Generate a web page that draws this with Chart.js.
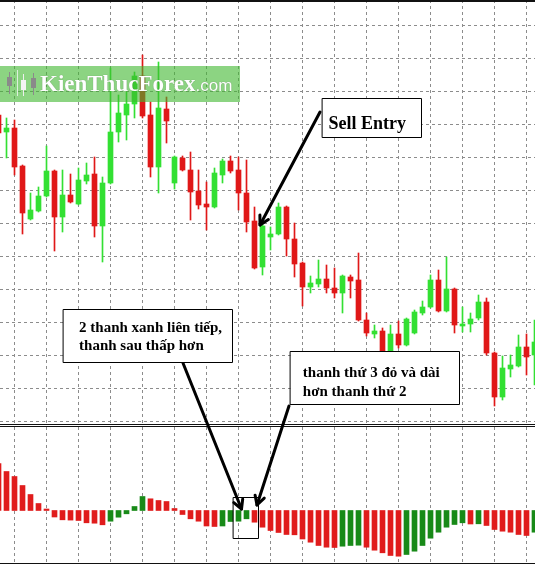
<!DOCTYPE html>
<html>
<head>
<meta charset="utf-8">
<title>Sell Entry</title>
<script src="https://cdn.jsdelivr.net/npm/chart.js@4.4.0/dist/chart.umd.min.js"></script>
<style>
  html,body{margin:0;padding:0;background:#fff;}
  #wrap{position:relative;width:535px;height:565px;overflow:hidden;background:#fff;}
  #wrap canvas{position:absolute;left:0;}
  .rule{position:absolute;left:0;width:535px;height:1px;background:#111;}
  #logo{position:absolute;left:0;top:66px;width:240px;height:36px;background:rgba(63,183,47,0.6);white-space:nowrap;color:#fff;}
  #logo .name{position:absolute;left:40px;top:0;font:bold 23px/36px "Liberation Serif","DejaVu Serif",serif;text-shadow:0 0 1px rgba(0,0,0,.35);}
  #logo .dom{font:17px/36px "Liberation Sans",Arial,sans-serif;}
  .ic{position:absolute;background:#8a8a8a;}
</style>
</head>
<body>
<div id="wrap">
  <canvas id="priceCanvas" width="535" height="424" style="top:0"></canvas>
  <canvas id="oscCanvas" width="535" height="136" style="top:427px"></canvas>
  <div id="logo">
    <div class="ic" style="left:9px;top:6px;width:1px;height:22px"></div>
    <div class="ic" style="left:7px;top:11px;width:5px;height:9px"></div>
    <div class="ic" style="left:17px;top:4px;width:1px;height:26px;background:#dcefdc"></div>
    <div class="ic" style="left:23px;top:8px;width:1px;height:22px;background:#eee"></div>
    <div class="ic" style="left:21px;top:14px;width:5px;height:10px;background:#f4f4f4"></div>
    <div class="ic" style="left:33px;top:7px;width:1px;height:22px"></div>
    <div class="ic" style="left:31px;top:12px;width:5px;height:10px"></div>
    <span class="name">KienThucForex<span class="dom">.com</span></span>
  </div>
  <div class="rule" style="top:0;height:2px"></div>
  <div class="rule" style="top:424px"></div>
  <div class="rule" style="top:426px"></div>
  <div class="rule" style="top:563px"></div>
  <canvas id="noteCanvas" width="535" height="565" style="top:0"></canvas>
</div>

<script>
// nen gia (OHLC), don vi = diem tren khung gia
const candleOpen  = [309,292,296,258,205,213,228,253,207,229,220,243,250,198,241,292,309,320,348,309,257,315,241,266,254,233,220,217,249,263,254,231,203,157,187,190,217,185,161,137,140,145,136,131,147,144,104,90,93,72,90,79,91,111,117,144,113,135,98,100,106,122,71,27,55,58,77,69];
const candleHigh  = [311,306,304,259,231,237,278,254,254,250,256,261,267,247,356,329,332,352,369,322,362,327,268,268,272,254,242,256,265,268,267,264,217,202,197,221,218,201,162,148,164,159,156,149,149,171,111,99,96,99,103,106,114,123,149,154,167,136,117,111,129,126,72,68,69,89,90,104];
const candleLow   = [288,266,249,190,204,212,227,173,192,221,219,240,187,162,240,282,284,306,306,247,231,281,235,253,204,215,194,216,241,251,214,192,155,149,174,189,168,147,118,131,137,131,126,111,126,103,88,86,64,67,76,78,90,109,116,112,112,91,92,92,104,69,18,24,47,57,49,39];
const candleClose = [291,296,257,211,214,228,253,207,229,222,244,249,198,241,292,311,320,348,308,257,316,303,267,254,232,219,217,251,263,253,231,202,156,198,190,217,185,160,137,141,145,136,131,148,143,104,91,93,70,90,79,105,112,117,144,113,135,99,100,105,122,71,27,56,59,77,67,82];

// histogram (OsMA) ben duoi
const oscValues = [47,39,34,25,16,7,1.5,-6.5,-9.3,-9.6,-10,-12.3,-12.7,-14.3,-10.7,-6.7,-3.3,4,14,11.7,10,9,2,-4,-8.3,-10.7,-15.5,-16,-15.5,-11,-10.7,-8.3,-11.7,-16.7,-20,-22,-24,-24.3,-28.5,-31.7,-35,-36.7,-37,-35.7,-35,-34.7,-36.7,-39.7,-42.3,-45,-45.7,-44,-40.7,-35,-27.7,-21.7,-16.7,-14,-12.3,-13.5,-13.3,-15,-19,-20.7,-21.7,-24,-25,-21.7];

// duong luoi
const gridBars = [4,8,12,16,20,24,28,32,36,40,44,48,52,56,60,64];
const priceGrid = [2.3,35.4,68.4,101.5,134.5,167.6,200.7,233.7,266.8,299.8,332.9,365.9,399];

const barIdx = candleOpen.map((o,i)=>i);
const candleColors = candleClose.map((c,i)=> c>=candleOpen[i] ? '#33e033' : '#e01818');
const oscColors = oscValues.map((v,i)=> (i>0 && v>oscValues[i-1]) ? '#188a18' : '#e01c1c');

const GRID = '#8c8c8c';

function xAxis(){
  return {
    type:'linear', min:0.1875, max:67.0625, offset:false,
    ticks:{display:false}, grid:{color:GRID, drawTicks:false}, border:{display:false, dash:[3,3]},
    afterBuildTicks: s => { s.ticks = gridBars.map(v=>({value:v})); }
  };
}

const baseOpts = {responsive:false, animation:false, events:[], layout:{padding:0},
  plugins:{legend:{display:false}, tooltip:{enabled:false}}};

let priceChart = new Chart(document.getElementById('priceCanvas'), {
  type:'bar',
  data:{datasets:[
    {data: barIdx.map(i=>({x:i, y:[candleLow[i], candleHigh[i]]})), backgroundColor:candleColors,
     grouped:false, barThickness:1, maxBarThickness:1},
    {data: barIdx.map(i=>({x:i, y:[Math.min(candleOpen[i],candleClose[i]), Math.max(candleOpen[i],candleClose[i])]})),
     backgroundColor:candleColors, grouped:false, barThickness:5, maxBarThickness:5, minBarLength:1}
  ]},
  options:{...baseOpts, scales:{
    x: xAxis(),
    y: {min:0, max:424, ticks:{display:false}, grid:{color:GRID, drawTicks:false}, border:{display:false, dash:[3,3]},
        afterBuildTicks: s => { s.ticks = priceGrid.map(v=>({value:v})); }}
  }}
});

let oscChart = new Chart(document.getElementById('oscCanvas'), {
  type:'bar',
  data:{datasets:[
    {data: barIdx.map(i=>({x:i, y:oscValues[i]})), backgroundColor:oscColors,
     grouped:false, barThickness:5, maxBarThickness:5}
  ]},
  options:{...baseOpts, scales:{
    x: xAxis(),
    y: {min:-52.5, max:83.5, display:false}
  }}
});

// ghi chu: hop chu + mui ten (toa do theo chi so nen / gia tri)
const OSC_TOP = 427;
const SERIF = '"Liberation Serif","DejaVu Serif",serif';
const noteBoxes = [
  {pane:'p', k:[40.4,52.78], v:[325.7,287.3], lines:['Sell Entry'], size:18, padX:6, base:[30]},
  {pane:'p', k:[8.02,29.22], v:[114.7,62.3], lines:['2 thanh xanh liên tiếp,','thanh sau thấp hơn'], size:15, padX:15.6, base:[22.4,40.7]},
  {pane:'p', k:[36.44,57.6], v:[73,19.7], lines:['thanh thứ 3 đỏ và dài','hơn thanh thứ 2'], size:15, padX:12.3, base:[25.7,44]}
];
const noteArrows = [
  {from:['p',40.19,312], to:['p',32.69,199]},
  {from:['p',23.06,61], to:['o',30.375,1.5]},
  {from:['p',36.31,18], to:['o',32.31,5.5]}
];
const noteRect = {k:[29.35,32.48], v:[13.2,-27.8]};

function px(k){ return priceChart.scales.x.getPixelForValue(k); }
function py(pane,v){
  return pane==='p' ? priceChart.scales.y.getPixelForValue(v) : oscChart.scales.y.getPixelForValue(v)+OSC_TOP;
}

function arrow(ctx,x1,y1,x2,y2,head){
  ctx.beginPath(); ctx.moveTo(x1,y1); ctx.lineTo(x2,y2); ctx.stroke();
  const a = Math.atan2(y2-y1,x2-x1);
  ctx.beginPath();
  ctx.moveTo(x2-head*Math.cos(a-0.5), y2-head*Math.sin(a-0.5));
  ctx.lineTo(x2,y2);
  ctx.lineTo(x2-head*Math.cos(a+0.5), y2-head*Math.sin(a+0.5));
  ctx.stroke();
}

function drawNotes(){
  const ctx = document.getElementById('noteCanvas').getContext('2d');
  ctx.strokeStyle='#000'; ctx.fillStyle='#000';
  // mui ten
  ctx.lineWidth=3; ctx.lineCap='round'; ctx.lineJoin='round';
  noteArrows.forEach(a=>{
    arrow(ctx, px(a.from[1]), py(a.from[0],a.from[2]), px(a.to[1]), py(a.to[0],a.to[2]), 10);
  });
  // hop chu
  noteBoxes.forEach(b=>{
    const x0=Math.round(px(b.k[0]))+0.5, x1=Math.round(px(b.k[1]))+0.5;
    const y0=Math.round(py(b.pane,b.v[0]))+0.5, y1=Math.round(py(b.pane,b.v[1]))+0.5;
    ctx.fillStyle='#fff'; ctx.fillRect(x0,y0,x1-x0,y1-y0);
    ctx.lineWidth=1; ctx.strokeStyle='#000'; ctx.strokeRect(x0,y0,x1-x0,y1-y0);
    ctx.fillStyle='#000'; ctx.font='bold '+b.size+'px '+SERIF; ctx.textBaseline='alphabetic';
    b.lines.forEach((t,i)=>ctx.fillText(t, x0+b.padX, y0+b.base[i]));
  });
  // khung quanh 3 thanh
  const rx0=Math.round(px(noteRect.k[0]))+0.5, rx1=Math.round(px(noteRect.k[1]))+0.5;
  const ry0=Math.round(py('o',noteRect.v[0]))+0.5, ry1=Math.round(py('o',noteRect.v[1]))+0.5;
  ctx.lineWidth=1; ctx.strokeRect(rx0,ry0,rx1-rx0,ry1-ry0);
}
drawNotes();
</script>
</body>
</html>
